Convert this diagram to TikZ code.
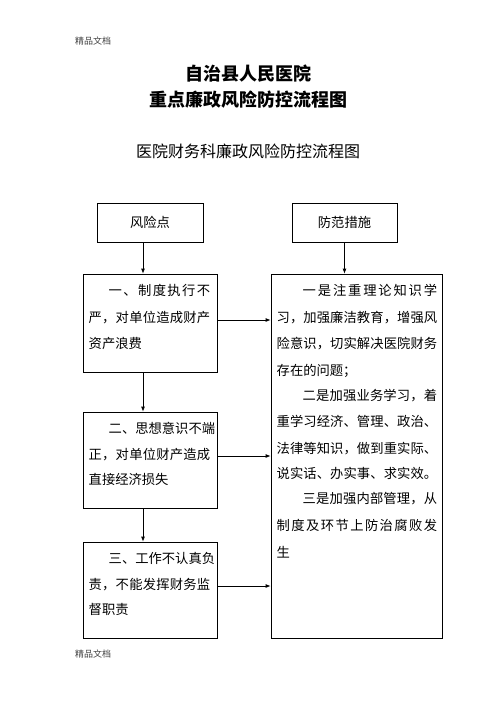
\documentclass[tikz,border=0pt]{standalone}
\usepackage{fontspec}
\newfontfamily\cjk{Noto Sans CJK SC}
\usetikzlibrary{arrows.meta}
\newcommand\jl[2]{\makebox[#1][s]{\spaceskip=0pt plus 1fil\relax #2}}
\begin{document}
\begin{tikzpicture}[x=1pt,y=-1pt,
  box/.style={draw, line width=0.8pt, inner sep=0pt},
  arr/.style={line width=0.8pt, -{Latex[length=5pt,width=4pt]}},
  tl/.style={anchor=base west, inner sep=0pt, font=\cjk\fontsize{13.3}{13.3}\selectfont},
  hd/.style={inner sep=0pt, font=\cjk\fontsize{9}{9}\selectfont, text=black!75, anchor=west}]
\useasboundingbox (0,0) rectangle (496,702);
\node[hd] (h1) at (75,41) {精品文档};
\node[hd] (h2) at (75,654) {精品文档};
\node[inner sep=0pt, font=\cjk\bfseries\fontsize{18}{18}\selectfont] (t1) at (248,74) {自治县人民医院};
\node[inner sep=0pt, font=\cjk\bfseries\fontsize{18}{18}\selectfont] (t2) at (248,99.5) {重点廉政风险防控流程图};
\node[inner sep=0pt, font=\cjk\fontsize{16}{16}\selectfont] (t3) at (248,151) {医院财务科廉政风险防控流程图};
% boxes
\node[box, minimum width=106pt, minimum height=39pt, font=\cjk\fontsize{13.3}{13.3}\selectfont] (r0) at (150,222.5) {风险点};
\node[box, minimum width=105pt, minimum height=39pt, font=\cjk\fontsize{13.3}{13.3}\selectfont] (m0) at (344.5,222.5) {防范措施};
\node[box, minimum width=134pt, minimum height=98pt] (b1) at (150,323) {};
\node[box, minimum width=134pt, minimum height=96pt] (b2) at (150,460) {};
\node[box, minimum width=134pt, minimum height=96pt] (b3) at (150,590) {};
\node[box, minimum width=171pt, minimum height=364pt] (R) at (356.5,456) {};
% texts box1
\node[tl] (a1) at (108.5,295) {\jl{101.5pt}{一 、 制 度 执 行 不}};
\node[tl] (a2) at (88.5,322) {\jl{121.5pt}{严 ， 对 单 位 造 成 财 产}};
\node[tl] (a3) at (88.5,348) {资产浪费};
% box2
\node[tl] (c1) at (108.5,433) {\jl{101.5pt}{二 、 思 想 意 识 不 端}};
\node[tl] (c2) at (88.5,459) {\jl{121.5pt}{正 ， 对 单 位 财 产 造 成}};
\node[tl] (c3) at (88.5,484) {直接经济损失};
% box3
\node[tl] (d1) at (108.5,563) {\jl{101.5pt}{三 、 工 作 不 认 真 负}};
\node[tl] (d2) at (88.5,589) {\jl{121.5pt}{责 ， 不 能 发 挥 财 务 监}};
\node[tl] (d3) at (88.5,614) {督职责};
% right box
\node[tl] (e1) at (302.5,295) {\jl{134.5pt}{一 是 注 重 理 论 知 识 学}};
\node[tl] (e2) at (276.5,322) {\jl{160.5pt}{习 ， 加 强 廉 洁 教 育 ， 增 强 风}};
\node[tl] (e3) at (276.5,348) {\jl{160.5pt}{险 意 识 ， 切 实 解 决 医 院 财 务}};
\node[tl] (e4) at (276.5,375) {存在的问题；};
\node[tl] (e5) at (302.5,400) {\jl{134.5pt}{二 是 加 强 业 务 学 习 ， 着}};
\node[tl] (e6) at (276.5,426) {\jl{160.5pt}{重 学 习 经 济 、 管 理 、 政 治 、}};
\node[tl] (e7) at (276.5,453) {\jl{160.5pt}{法 律 等 知 识 ， 做 到 重 实 际 、}};
\node[tl] (e8) at (276.5,478) {\jl{160.5pt}{说 实 话 、 办 实 事 、 求 实 效 。}};
\node[tl] (e9) at (302.5,503) {\jl{134.5pt}{三 是 加 强 内 部 管 理 ， 从}};
\node[tl] (e10) at (276.5,530) {\jl{160.5pt}{制 度 及 环 节 上 防 治 腐 败 发}};
\node[tl] (e11) at (276.5,557) {生};
% connectors
\coordinate (lx) at (143,0);
\draw[arr] (r0.south -| lx) -- (b1.north -| lx);
\draw[arr] (b1.south -| lx) -- (b2.north -| lx);
\draw[arr] (b2.south -| lx) -- (b3.north -| lx);
\draw[arr] (m0.south) -- (m0.south |- R.north);
\draw[arr] ([yshift=3pt]b1.east) -- ([yshift=3pt]b1.east -| R.west);
\draw[arr] ([yshift=4pt]b2.east) -- ([yshift=4pt]b2.east -| R.west);
\draw[arr] ([yshift=4pt]b3.east) -- ([yshift=4pt]b3.east -| R.west);
\end{tikzpicture}
\end{document}
